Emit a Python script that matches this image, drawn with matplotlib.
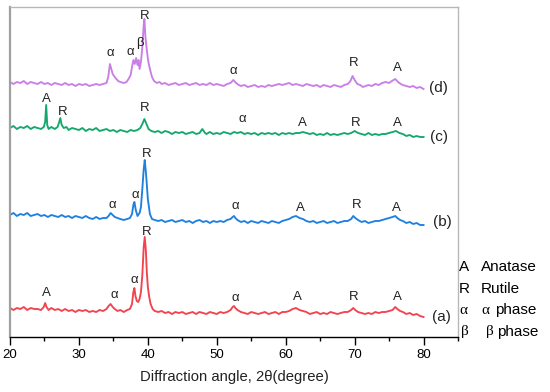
import matplotlib
matplotlib.use("Agg")
import matplotlib.pyplot as plt
from matplotlib.ticker import MultipleLocator

plt.rcParams['font.family'] = ['Liberation Sans', 'DejaVu Sans']

# ---------------- data (2theta in degrees, intensity in offset arbitrary units) ----------------
a_theta = [20.0, 20.5, 21.0, 21.5, 22.0, 22.5, 23.0, 23.5, 24.0, 24.5, 24.9, 25.1, 25.3, 25.6,
           26.0, 26.5, 27.0, 27.5, 28.0, 28.5, 29.0, 29.5, 30.0, 30.5, 31.0, 31.5, 32.0, 32.5,
           33.0, 33.5, 34.0, 34.3, 34.6, 34.9, 35.2, 35.6, 36.0, 36.5, 37.0, 37.4, 37.7, 37.9,
           38.05, 38.2, 38.4, 38.6, 38.8, 39.0, 39.2, 39.4, 39.55, 39.7, 39.85, 40.0, 40.2, 40.4,
           40.7, 41.0, 41.5, 42.0, 42.5, 43.0, 43.5, 44.0, 44.5, 45.0, 45.5, 46.0, 46.5, 47.0,
           47.5, 48.0, 48.5, 49.0, 49.5, 50.0, 50.5, 51.0, 51.5, 52.0, 52.3, 52.5, 52.7, 53.0,
           53.5, 54.0, 54.5, 55.0, 55.5, 56.0, 56.5, 57.0, 57.5, 58.0, 58.5, 59.0, 59.5, 60.0,
           60.5, 61.0, 61.5, 62.0, 62.5, 63.0, 63.5, 64.0, 64.5, 65.0, 65.5, 66.0, 66.5, 67.0,
           67.5, 68.0, 68.5, 69.0, 69.5, 69.8, 70.1, 70.5, 71.0, 71.5, 72.0, 72.5, 73.0, 73.5,
           74.0, 74.5, 75.0, 75.5, 75.9, 76.2, 76.6, 77.0, 77.5, 78.0, 78.5, 79.0, 79.5, 80.0]
a_int = [29, 27, 29, 28, 30, 27, 29, 28, 28, 27, 30, 34, 30, 27,
         29, 27, 28, 26, 28, 26, 27, 25, 27, 26, 27, 25, 26, 25,
         27, 26, 28, 31, 33, 30, 28, 26, 27, 25, 27, 28, 33, 45,
         49, 41, 36, 35, 38, 45, 62, 90, 100, 88, 65, 50, 40, 33,
         28, 26, 25, 26, 24, 25, 23, 25, 24, 25, 23, 24, 25, 23,
         25, 24, 23, 25, 24, 23, 25, 24, 25, 27, 30, 31, 29, 27,
         25, 24, 23, 25, 24, 23, 24, 25, 23, 24, 25, 23, 25, 25,
         26, 28, 29, 27, 26, 25, 23, 24, 25, 23, 24, 23, 25, 24,
         23, 24, 25, 25, 27, 29, 27, 25, 24, 23, 24, 23, 25, 24,
         25, 25, 26, 27, 30, 28, 26, 25, 23, 24, 22, 23, 21, 20]

b_theta = [20.0, 20.5, 21.0, 21.5, 22.0, 22.5, 23.0, 23.5, 24.0, 24.5, 25.0, 25.5, 26.0, 26.5,
           27.0, 27.5, 28.0, 28.5, 29.0, 29.5, 30.0, 30.5, 31.0, 31.5, 32.0, 32.5, 33.0, 33.5,
           34.0, 34.3, 34.6, 34.9, 35.2, 35.6, 36.0, 36.5, 37.0, 37.4, 37.7, 37.9, 38.05, 38.25,
           38.5, 38.8, 39.0, 39.2, 39.4, 39.55, 39.75, 40.0, 40.3, 40.6, 41.0, 41.5, 42.0, 42.5,
           43.0, 43.5, 44.0, 44.5, 45.0, 45.5, 46.0, 46.5, 47.0, 47.5, 48.0, 48.5, 49.0, 49.5,
           50.0, 50.5, 51.0, 51.5, 52.0, 52.3, 52.5, 52.7, 53.0, 53.5, 54.0, 54.5, 55.0, 55.5,
           56.0, 56.5, 57.0, 57.5, 58.0, 58.5, 59.0, 59.5, 60.0, 60.5, 61.0, 61.5, 62.0, 62.5,
           63.0, 63.5, 64.0, 64.5, 65.0, 65.5, 66.0, 66.5, 67.0, 67.5, 68.0, 68.5, 69.0, 69.5,
           69.8, 70.1, 70.5, 71.0, 71.5, 72.0, 72.5, 73.0, 73.5, 74.0, 74.5, 75.0, 75.5, 75.9,
           76.2, 76.6, 77.0, 77.5, 78.0, 78.5, 79.0, 79.5, 80.0]
b_int = [122, 124, 121, 123, 122, 124, 121, 122, 123, 121, 122, 120, 122, 121,
         120, 122, 120, 121, 119, 121, 120, 119, 121, 119, 118, 120, 118, 119,
         119, 121, 124, 122, 120, 119, 118, 117, 118, 119, 123, 132, 135, 127,
         121, 124, 130, 148, 168, 177, 162, 138, 123, 118, 117, 116, 117, 115, 116, 117,
         115, 116, 117, 115, 116, 114, 116, 117, 115, 116, 114, 116,
         115, 116, 115, 117, 118, 120, 121, 119, 117, 115, 116, 114, 116, 115,
         114, 116, 115, 114, 116, 115, 114, 116, 117, 118, 120, 121, 119, 118,
         116, 115, 116, 114, 115, 116, 114, 115, 116, 114, 115, 116, 116, 118,
         121, 119, 117, 115, 116, 114, 115, 116, 116, 117, 118, 119, 120, 121,
         119, 117, 116, 114, 115, 113, 114, 112, 112]

c_theta = [20.0, 20.5, 21.0, 21.5, 22.0, 22.5, 23.0, 23.5, 24.0, 24.5, 24.9, 25.1, 25.25, 25.4,
           25.6, 26.0, 26.5, 26.9, 27.1, 27.3, 27.5, 27.8, 28.2, 28.5, 29.0, 29.5, 30.0, 30.5,
           31.0, 31.5, 32.0, 32.5, 33.0, 33.5, 34.0, 34.5, 35.0, 35.5, 36.0, 36.5, 37.0, 37.5,
           38.0, 38.5, 38.9, 39.2, 39.5, 39.8, 40.1, 40.5, 41.0, 41.5, 42.0, 42.5, 43.0, 43.5,
           44.0, 44.5, 45.0, 45.5, 46.0, 46.5, 47.0, 47.5, 47.9, 48.3, 48.5, 49.0, 49.5, 50.0,
           50.5, 51.0, 51.5, 52.0, 52.5, 53.0, 53.5, 54.0, 54.5, 55.0, 55.5, 56.0, 56.5, 57.0,
           57.5, 58.0, 58.5, 59.0, 59.5, 60.0, 60.5, 61.0, 61.5, 62.0, 62.5, 63.0, 63.5, 64.0,
           64.5, 65.0, 65.5, 66.0, 66.5, 67.0, 67.5, 68.0, 68.5, 69.0, 69.5, 70.0, 70.5, 71.0,
           71.5, 72.0, 72.5, 73.0, 73.5, 74.0, 74.5, 75.0, 75.5, 76.0, 76.5, 77.0, 77.5, 78.0,
           78.5, 79.0, 79.5, 80.0]
c_int = [209, 211, 208, 210, 209, 211, 208, 210, 209, 208, 210, 215, 232, 212,
         208, 210, 208, 210, 214, 219, 212, 209, 210, 207, 209, 208, 207, 209,
         206, 208, 207, 209, 206, 207, 208, 206, 207, 205, 207, 206, 205, 207,
         206, 207, 209, 213, 218, 213, 208, 206, 205, 206, 204, 206, 205, 203,
         205, 204, 205, 203, 204, 205, 203, 204, 208, 204, 203, 205, 203, 204,
         203, 205, 204, 203, 205, 204, 205, 203, 204, 203, 204, 202, 204, 203,
         204, 203, 204, 202, 204, 203, 204, 203, 204, 204, 205, 204, 203, 204,
         202, 203, 202, 204, 202, 203, 202, 203, 204, 203, 204, 206, 204, 203,
         202, 204, 202, 203, 202, 203, 203, 204, 205, 206, 204, 203, 201, 202,
         200, 201, 200, 200]

d_theta = [20.0, 20.5, 21.0, 21.5, 22.0, 22.5, 23.0, 23.5, 24.0, 24.5, 25.0, 25.5, 26.0, 26.5,
           27.0, 27.5, 28.0, 28.5, 29.0, 29.5, 30.0, 30.5, 31.0, 31.5, 32.0, 32.5, 33.0, 33.5,
           34.0, 34.25, 34.5, 34.7, 34.9, 35.3, 35.7, 36.0, 36.5, 36.9, 37.2, 37.5, 37.7, 37.9,
           38.1, 38.3, 38.5, 38.65, 38.8, 39.0, 39.2, 39.4, 39.5, 39.65, 39.85, 40.05, 40.3, 40.6,
           40.9, 41.3, 41.7, 42.0, 42.5, 43.0, 43.5, 44.0, 44.5, 45.0, 45.5, 46.0, 46.5, 47.0,
           47.5, 48.0, 48.5, 49.0, 49.5, 50.0, 50.5, 51.0, 51.5, 52.0, 52.4, 52.8, 53.2, 53.5,
           54.0, 54.5, 55.0, 55.5, 56.0, 56.5, 57.0, 57.5, 58.0, 58.5, 59.0, 59.5, 60.0, 60.5,
           61.0, 61.5, 62.0, 62.5, 63.0, 63.5, 64.0, 64.5, 65.0, 65.5, 66.0, 66.5, 67.0, 67.5,
           68.0, 68.5, 69.0, 69.4, 69.7, 70.0, 70.4, 70.8, 71.2, 71.6, 72.0, 72.5, 73.0, 73.5,
           74.0, 74.5, 75.0, 75.4, 75.9, 76.3, 76.7, 77.0, 77.5, 78.0, 78.5, 79.0, 79.5, 80.0]
d_int = [255, 253, 255, 254, 256, 253, 255, 254, 253, 255, 253, 254, 252, 254,
         253, 252, 254, 252, 253, 251, 253, 252, 253, 251, 252, 253, 252, 253,
         254, 260, 273, 268, 263, 259, 256, 255, 254, 255, 258, 262, 270, 277,
         273, 279, 272, 277, 268, 275, 290, 312, 318, 300, 287, 276, 268, 260,
         256, 254, 255, 253, 254, 252, 253, 254, 252, 253, 254, 252, 253, 254,
         252, 253, 252, 254, 252, 253, 252, 251, 253, 254, 257, 254, 252, 251,
         252, 250, 251, 252, 250, 251, 250, 252, 251, 252, 253, 252, 253, 254,
         252, 253, 252, 251, 253, 252, 251, 252, 250, 252, 251, 250, 252, 251,
         250, 252, 253, 256, 261, 257, 253, 252, 250, 251, 252, 251, 253, 252,
         254, 255, 254, 256, 258, 255, 253, 252, 251, 250, 251, 249, 250, 248]

# peak labels: (2theta, height, text) per pattern
a_labels = [(25.3, 44, "A"), (35.1, 42, "α"), (38.1, 57, "α"), (39.9, 105, "R"),
            (52.7, 39, "α"), (61.7, 40, "A"), (69.8, 40, "R"), (76.2, 40, "A")]
b_labels = [(34.9, 132, "α"), (38.2, 142, "α"), (39.8, 183, "R"), (52.7, 131, "α"),
            (62.1, 129, "A"), (70.3, 132, "R"), (76.1, 129, "A")]
c_labels = [(25.3, 238, "A"), (27.6, 225, "R"), (39.6, 229, "R"), (53.7, 218, "α"),
            (62.4, 214, "A"), (70.1, 214, "R"), (76.2, 214, "A")]
d_labels = [(34.5, 284, "α"), (37.5, 285, "α"), (38.9, 294, "β"), (39.5, 321, "R"),
            (52.4, 266, "α"), (69.8, 274, "R"), (76.2, 269, "A")]

sample_names = ["(a)", "(b)", "(c)", "(d)"]
sample_label_pos = [(82.6, 20), (82.8, 115), (82.3, 200), (82.2, 249)]

colors = ["#f2434f", "#1f80e0", "#14a86e", "#c97fe6"]

# ---------------- plot ----------------
fig = plt.figure(figsize=(5.5, 3.92), dpi=100)
ax = fig.add_axes([10 / 550, 1 - 337 / 392, 448 / 550, 330 / 392])

series = [(a_theta, a_int, a_labels), (b_theta, b_int, b_labels),
          (c_theta, c_int, c_labels), (d_theta, d_int, d_labels)]
for (th, inten, labels), col in zip(series, colors):
    ax.plot(th, inten, color=col, lw=1.35)
    for x, y, t in labels:
        ax.text(x, y, t, ha="center", va="center", fontsize=9.5, color="#222222")

for name, (x, y) in zip(sample_names, sample_label_pos):
    ax.text(x, y, name, ha="center", va="center", fontsize=11, color="#222222")

ax.set_xlim(20, 85)
ax.set_ylim(0, 330)
ax.set_yticks([])
ax.set_xticks([20, 30, 40, 50, 60, 70, 80])
ax.xaxis.set_minor_locator(MultipleLocator(5))
ax.tick_params(axis="x", which="major", direction="out", length=6, width=1, labelsize=9.5, pad=3)
ax.tick_params(axis="x", which="minor", direction="out", length=3, width=1)
ax.set_xlabel("Diffraction angle, 2θ(degree)", fontsize=10.7, labelpad=6, color="#222222")

ax.spines["bottom"].set_color("black")
ax.spines["bottom"].set_linewidth(1.0)
ax.spines["left"].set_color("#a0a0a0")
ax.spines["left"].set_linewidth(1.6)
for s in ("top", "right"):
    ax.spines[s].set_color("#b8b8b8")
    ax.spines[s].set_linewidth(1.0)

# key on the right
key_y = [267, 289, 310, 332]
fs = 11
serif = ["Liberation Serif", "DejaVu Serif"]
fig.text(459 / 550, 1 - key_y[0] / 392, "A", fontsize=fs, va="center", ha="left")
fig.text(481 / 550, 1 - key_y[0] / 392, "Anatase", fontsize=fs, va="center", ha="left")
fig.text(459 / 550, 1 - key_y[1] / 392, "R", fontsize=fs, va="center", ha="left")
fig.text(481 / 550, 1 - key_y[1] / 392, "Rutile", fontsize=fs, va="center", ha="left")
fig.text(459 / 550, 1 - key_y[2] / 392, "α", fontsize=fs, va="center", ha="left", family=serif)
fig.text(481 / 550, 1 - key_y[2] / 392, "α", fontsize=fs, va="center", ha="left", family=serif)
fig.text(495 / 550, 1 - key_y[2] / 392, "phase", fontsize=fs, va="center", ha="left")
fig.text(461 / 550, 1 - key_y[3] / 392, "β", fontsize=fs, va="center", ha="left", family=serif)
fig.text(486 / 550, 1 - key_y[3] / 392, "β", fontsize=fs, va="center", ha="left", family=serif)
fig.text(497 / 550, 1 - key_y[3] / 392, "phase", fontsize=fs, va="center", ha="left")

fig.savefig("out.png", dpi=100)
